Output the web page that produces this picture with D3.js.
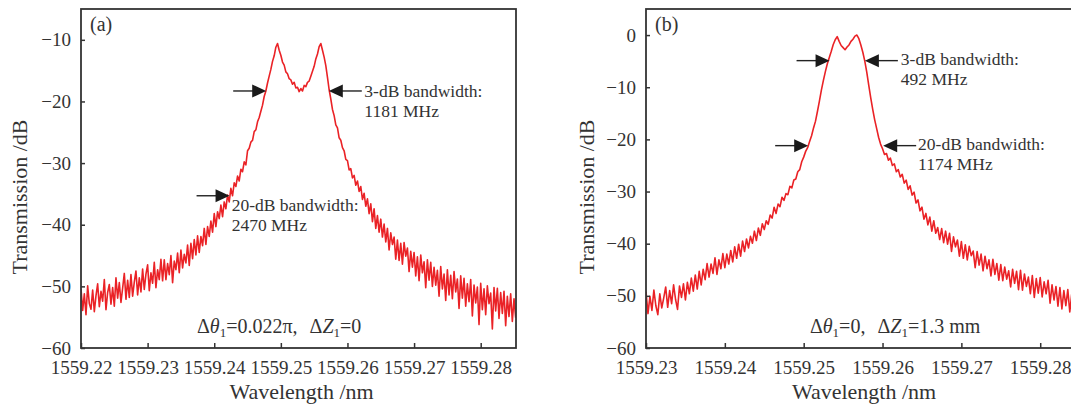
<!DOCTYPE html>
<html>
<head>
<meta charset="utf-8">
<script src="https://cdn.jsdelivr.net/npm/d3@7"></script>
<style>
  body { margin: 0; background: #fff; }
  svg text { font-family: "Liberation Serif", "DejaVu Serif", serif; fill: #333; }
</style>
</head>
<body>
<div id="chart"></div>
<script>
// sampling step of the measured spectra (nm)
const stepNm = 0.00025;

// ---- (a) Δθ1=0.022π, ΔZ1=0 ----
const startA = 1559.22;
const transA = [
  -50.4, -53.9, -51.2, -54.6, -49.9, -52.8, -53.7, -50.6, -54.1, -51.5,
  -49.6, -53.3, -50.8, -52.4, -48.9, -53.8, -51.0, -49.7, -52.9, -50.2,
  -53.2, -48.6, -51.9, -49.4, -52.6, -50.3, -47.9, -52.1, -49.0, -51.8,
  -48.1, -51.6, -49.3, -47.5, -51.4, -48.6, -50.9, -47.2, -50.5, -48.0,
  -46.5, -50.7, -47.8, -49.5, -46.1, -50.2, -47.3, -48.9, -45.6, -49.1,
  -45.7, -48.9, -46.3, -48.1, -45.0, -49.4, -45.9, -47.3, -44.6, -47.8,
  -44.1, -47.0, -44.8, -46.2, -43.3, -46.6, -43.0, -45.5, -42.4, -44.9,
  -41.8, -44.5, -41.9, -43.4, -40.6, -43.2, -40.3, -41.9, -39.4, -41.2,
  -38.2, -40.3, -37.9, -39.0, -36.8, -38.7, -36.3, -37.4, -35.2, -36.3,
  -34.1, -35.3, -33.2, -33.8, -32.1, -32.9, -31.0, -31.4, -29.8, -30.3,
  -28.0, -27.6, -26.6, -26.3, -24.9, -24.6, -23.3, -22.6, -21.6, -20.6,
  -19.2, -18.3, -17.0, -15.9, -14.8, -13.5, -12.6, -11.2, -10.6, -11.7,
  -12.5, -13.6, -14.1, -15.2, -15.5, -16.3, -16.5, -17.2, -16.9, -17.8,
  -17.7, -18.4, -17.9, -18.3, -17.4, -17.6, -16.9, -16.7, -15.9, -15.1,
  -14.3, -13.1, -12.3, -11.1, -10.6, -11.7, -12.8, -14.2, -16.1, -18.1,
  -19.6, -21.3, -22.3, -23.8, -24.3, -25.9, -26.3, -27.5, -28.0, -29.4,
  -29.6, -31.1, -30.9, -32.4, -32.0, -33.6, -32.9, -34.6, -33.8, -35.9,
  -34.9, -37.0, -35.8, -38.2, -36.6, -39.5, -37.4, -40.6, -38.5, -41.2,
  -39.1, -42.0, -39.9, -42.8, -40.6, -44.1, -41.3, -43.2, -42.0, -45.6,
  -42.5, -45.8, -43.0, -46.4, -42.9, -45.1, -43.8, -47.6, -44.3, -46.9,
  -44.5, -48.3, -45.2, -49.1, -44.9, -47.8, -46.0, -50.2, -45.7, -49.0,
  -46.1, -50.0, -46.9, -49.8, -47.4, -51.6, -46.8, -50.4, -48.0, -52.3,
  -47.3, -51.4, -48.2, -52.0, -47.6, -50.9, -48.8, -53.6, -48.3, -51.9,
  -48.7, -53.2, -49.6, -52.5, -48.9, -54.8, -49.8, -52.7, -50.1, -56.2,
  -49.5, -53.8, -50.4, -54.6, -49.9, -52.8, -51.1, -56.9, -50.2, -54.0,
  -50.3, -55.2, -51.0, -54.4, -50.8, -56.4, -51.6, -54.9, -51.2, -55.7, -52.0, -55.1
];
const xTicksA = [1559.22, 1559.23, 1559.24, 1559.25, 1559.26, 1559.27, 1559.28];
const yTicksA = [-60, -50, -40, -30, -20, -10];
// arrow tips (wavelength, dB) and the side they come from
const arrowsA = [
  { wl: 1559.2478, db: -18.3, from: "left" },
  { wl: 1559.2572, db: -18.3, from: "right" },
  { wl: 1559.2423, db: -35.3, from: "left" }
];
const labelsA = [
  { wl: 1559.26253, db: -19.3, lines: ["3-dB bandwidth:", "1181 MHz"] },
  { wl: 1559.24262, db: -37.8, lines: ["20-dB bandwidth:", "2470 MHz"] }
];

// ---- (b) Δθ1=0, ΔZ1=1.3 mm ----
const startB = 1559.23;
const transB = [
  -49.2, -53.4, -50.1, -52.8, -48.9, -51.9, -53.6, -49.6, -52.3, -50.4,
  -48.3, -52.2, -49.0, -51.5, -47.9, -50.7, -52.6, -48.1, -50.3, -47.7,
  -50.8, -47.4, -49.6, -46.6, -49.1, -46.0, -48.7, -45.3, -47.9, -44.9,
  -46.9, -43.8, -46.4, -43.9, -45.7, -42.7, -45.9, -43.1, -44.8, -41.9,
  -44.6, -42.0, -43.9, -41.3, -43.5, -40.6, -42.8, -40.1, -42.4, -39.5,
  -41.5, -39.1, -40.8, -38.6, -39.9, -37.6, -39.4, -37.0, -38.4, -36.2,
  -37.3, -35.6, -36.3, -34.5, -35.1, -33.0, -34.2, -32.4, -32.9, -31.1,
  -31.7, -30.4, -30.6, -29.0, -29.3, -27.8, -27.6, -26.2, -25.8, -24.3,
  -23.4, -22.3, -21.6, -20.4, -19.3, -17.8, -16.5, -14.6, -12.6, -10.5,
  -8.7, -7.0, -5.5, -4.3, -3.1, -1.8, -0.9, -0.3, -1.2, -2.0,
  -2.4, -2.8, -2.3, -1.9, -1.2, -0.8, -0.2, 0.0, -0.7, -1.9,
  -3.3, -5.0, -7.1, -9.6, -12.0, -14.2, -16.2, -17.9, -19.6, -20.9,
  -21.8, -22.9, -22.7, -24.0, -23.6, -25.0, -24.7, -26.2, -25.8, -27.2,
  -26.7, -28.4, -27.8, -29.6, -28.9, -30.7, -30.1, -32.2, -31.6, -33.7,
  -33.0, -35.3, -34.2, -36.4, -34.9, -37.6, -35.6, -38.0, -36.9, -39.2,
  -37.1, -39.8, -37.6, -40.1, -38.0, -41.5, -38.7, -40.6, -39.3, -42.4,
  -39.6, -42.8, -40.2, -43.1, -40.5, -42.3, -41.4, -44.6, -41.5, -44.1,
  -42.0, -45.2, -42.4, -44.8, -43.1, -46.2, -43.0, -45.9, -43.8, -47.0,
  -44.0, -47.1, -44.5, -46.8, -45.2, -48.3, -44.9, -47.6, -45.3, -48.8,
  -45.1, -48.9, -45.8, -48.2, -46.4, -49.6, -46.1, -50.3, -46.7, -49.5,
  -46.5, -50.2, -47.3, -49.6, -47.0, -51.4, -47.9, -50.8, -48.2, -52.0,
  -48.4, -52.5, -49.0, -51.9, -48.8, -53.1, -49.6, -52.4, -50.0, -53.6, -49.9, -53.0
];
const xTicksB = [1559.23, 1559.24, 1559.25, 1559.26, 1559.27, 1559.28];
const yTicksB = [-60, -50, -40, -30, -20, -10, 0];
const arrowsB = [
  { wl: 1559.25328, db: -4.9, from: "left" },
  { wl: 1559.25776, db: -4.9, from: "right" },
  { wl: 1559.25057, db: -21.2, from: "left" },
  { wl: 1559.26008, db: -21.2, from: "right" }
];
const labelsB = [
  { wl: 1559.26232, db: -5.8, lines: ["3-dB bandwidth:", "492 MHz"] },
  { wl: 1559.26451, db: -22.1, lines: ["20-dB bandwidth:", "1174 MHz"] }
];

const svg = d3.select("#chart")
    .append("svg")
    .attr("width", 1071)
    .attr("height", 406);

const plotTop = 9, plotBottom = 348;

function drawPanel(p) {
    const x = d3.scaleLinear().domain(p.xDomain).range(p.xRange);
    const y = d3.scaleLinear().domain(p.yDomain).range([plotBottom, plotTop]);
    const g = svg.append("g");

    // clip for the curve
    const clipId = "clip-" + p.id;
    svg.append("clipPath").attr("id", clipId)
        .append("rect")
        .attr("x", p.xRange[0]).attr("y", plotTop)
        .attr("width", p.xRange[1] - p.xRange[0])
        .attr("height", plotBottom - plotTop);

    const data = p.values.map((v, i) => ({ wl: p.start + i * stepNm, db: v }));

    g.append("path")
        .datum(data)
        .attr("clip-path", `url(#${clipId})`)
        .attr("fill", "none")
        .attr("stroke", "#ea2226")
        .attr("stroke-width", 1.6)
        .attr("stroke-linejoin", "round")
        .attr("d", d3.line().x(d => x(d.wl)).y(d => y(d.db)));

    // Eixo X
    const xAxis = g.append("g")
        .attr("transform", `translate(0,${plotBottom})`)
        .attr("color", "#333")
        .call(d3.axisBottom(x).tickValues(p.xTicks).tickSize(-5).tickSizeOuter(0)
            .tickPadding(13).tickFormat(d3.format(".2f")));
    xAxis.select(".domain").remove();
    xAxis.selectAll("text").attr("font-size", 19);
    xAxis.selectAll("line").attr("stroke-width", 1.5);

    // Eixo Y
    const yAxis = g.append("g")
        .attr("transform", `translate(${p.xRange[0]},0)`)
        .attr("color", "#333")
        .call(d3.axisLeft(y).tickValues(p.yTicks).tickSize(-4).tickSizeOuter(0)
            .tickPadding(10).tickFormat(d => String(d).replace("-", "\u2212")));
    yAxis.select(".domain").remove();
    yAxis.selectAll("text").attr("font-size", 19);
    yAxis.selectAll("line").attr("stroke-width", 1.5);

    // frame
    g.append("rect")
        .attr("x", p.xRange[0]).attr("y", plotTop)
        .attr("width", p.xRange[1] - p.xRange[0])
        .attr("height", plotBottom - plotTop)
        .attr("fill", "none")
        .attr("stroke", "#333")
        .attr("stroke-width", 1.8);

    // axis titles
    g.append("text")
        .attr("x", (p.xRange[0] + p.xRange[1]) / 2 + p.xTitleShift)
        .attr("y", 399)
        .attr("text-anchor", "middle")
        .style("font-size", "22px")
        .text("Wavelength /nm");

    g.append("text")
        .attr("transform", `translate(${p.yTitleX},197) rotate(-90)`)
        .attr("text-anchor", "middle")
        .style("font-size", "22px")
        .text("Transmission /dB");

    // panel letter
    g.append("text")
        .attr("x", p.xRange[0] + 9)
        .attr("y", 31)
        .style("font-size", "20px")
        .text(p.letter);

    // arrows
    p.arrows.forEach(a => {
        const tx = x(a.wl), ty = y(a.db);
        const s = a.from === "left" ? -1 : 1;
        g.append("line")
            .attr("x1", tx + s * 33).attr("x2", tx + s * 12)
            .attr("y1", ty).attr("y2", ty)
            .attr("stroke", "#222").attr("stroke-width", 1.4);
        g.append("path")
            .attr("d", `M${tx},${ty}L${tx + s * 14},${ty - 6.5}L${tx + s * 14},${ty + 6.5}Z`)
            .attr("fill", "#1a1a1a");
    });

    // arrow labels
    p.labels.forEach(l => {
        const t = g.append("text")
            .attr("x", x(l.wl))
            .attr("y", y(l.db))
            .style("font-size", "17.5px");
        l.lines.forEach((line, i) => {
            t.append("tspan")
                .attr("x", x(l.wl))
                .attr("dy", i === 0 ? 0 : 19.5)
                .text(line);
        });
    });

    // condition text
    const c = g.append("text")
        .attr("x", x(p.cond.wl))
        .attr("y", y(p.cond.db))
        .style("font-size", "20px");
    p.cond.parts.forEach(part => {
        const ts = c.append("tspan").text(part.t);
        if (part.italic) ts.style("font-style", "italic");
        if (part.sub) ts.attr("dy", 4).style("font-size", "13px");
        if (part.after) ts.attr("dy", -4);
        if (part.gap) ts.attr("dx", part.gap);
    });
}

drawPanel({
    id: "a", letter: "(a)",
    start: startA, values: transA,
    xDomain: [1559.22, 1559.2853], xRange: [81, 516],
    yDomain: [-60, -5],
    xTicks: xTicksA, yTicks: yTicksA,
    arrows: arrowsA, labels: labelsA,
    xTitleShift: 3, yTitleX: 27,
    cond: {
        wl: 1559.23741, db: -57.6,
        parts: [
            { t: "\u0394" }, { t: "\u03b8", italic: true }, { t: "1", sub: true },
            { t: "=0.022\u03c0,", after: true }, { t: "\u0394", gap: 12 }, { t: "Z", italic: true },
            { t: "1", sub: true }, { t: "=0", after: true }
        ]
    }
});

drawPanel({
    id: "b", letter: "(b)",
    start: startB, values: transB,
    xDomain: [1559.23, 1559.2853], xRange: [646, 1082],
    yDomain: [-60, 5],
    xTicks: xTicksB, yTicks: yTicksB,
    arrows: arrowsB, labels: labelsB,
    xTitleShift: 0, yTitleX: 594,
    cond: {
        wl: 1559.25079, db: -57.1,
        parts: [
            { t: "\u0394" }, { t: "\u03b8", italic: true }, { t: "1", sub: true },
            { t: "=0,", after: true }, { t: "\u0394", gap: 12 }, { t: "Z", italic: true },
            { t: "1", sub: true }, { t: "=1.3 mm", after: true }
        ]
    }
});
</script>
</body>
</html>
